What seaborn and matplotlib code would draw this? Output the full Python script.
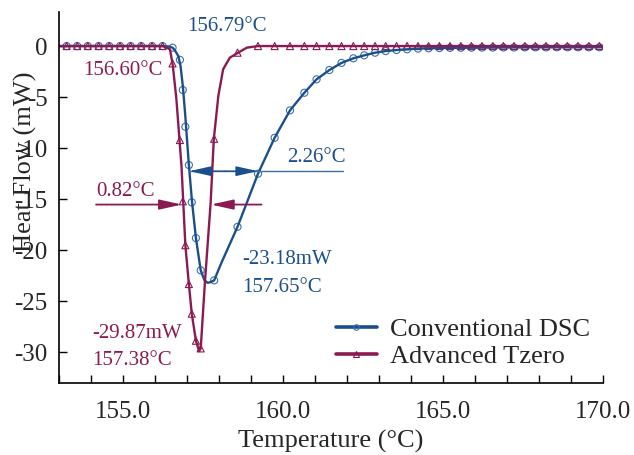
import numpy as np
import matplotlib
matplotlib.use("Agg")
import matplotlib.pyplot as plt
import seaborn as sns
from matplotlib.lines import Line2D
from matplotlib.ticker import MultipleLocator, FixedLocator

# ---- data ----
# line traces (temperature in degC, heat flow in mW)
t_conv = [153.0, 156.24, 156.45, 156.55, 156.62, 156.73, 156.80, 156.87, 156.94,
          157.06, 157.16, 157.28, 157.43, 157.55, 157.65, 157.75, 157.85, 158.08,
          158.58, 159.22, 159.74, 160.22, 160.67, 161.05, 161.45, 161.83, 162.20,
          162.54, 162.88, 163.21, 163.55, 163.88, 164.22, 164.55, 165.22, 166.50,
          168.00, 170.0]
hf_conv = [0.0, 0.0, -0.05, -0.16, -0.40, -0.98, -1.96, -3.9, -6.5,
           -11.65, -15.3, -18.8, -21.96, -22.95, -23.18, -23.1, -22.94, -21.2,
           -17.7, -12.5, -8.98, -6.3, -4.57, -3.26, -2.35, -1.65, -1.2,
           -0.91, -0.65, -0.49, -0.39, -0.32, -0.25, -0.22, -0.18, -0.15,
           -0.13, -0.12]

t_tz = [153.0, 156.24, 156.37, 156.47, 156.56, 156.67, 156.75, 156.83, 156.88,
        156.95, 157.06, 157.15, 157.28, 157.38, 157.43, 157.56, 157.74, 157.84,
        157.98, 158.13, 158.34, 158.60, 158.87, 159.22, 170.0]
hf_tz = [0.0, 0.0, -0.16, -0.32, -1.96, -5.2, -8.5, -11.8, -15.0,
         -19.5, -23.3, -26.2, -28.85, -29.87, -29.6, -23.2, -15.35, -9.08,
         -4.9, -2.28, -1.14, -0.65, -0.16, 0.0, 0.0]

# marker positions (shared temperature grid)
t_mark = [153.24, 153.57, 153.90, 154.24, 154.57, 154.91, 155.24, 155.57, 155.91,
          156.24, 156.55, 156.78, 156.87, 156.95, 157.06, 157.15, 157.28, 157.43,
          157.85, 158.58, 159.22, 159.74, 160.22, 160.67, 161.05, 161.45, 161.83,
          162.20, 162.54, 162.88, 163.21, 163.55, 163.88, 164.22, 164.55, 164.89,
          165.22, 165.56, 165.89, 166.22, 166.56, 166.89, 167.22, 167.56, 167.89,
          168.22, 168.56, 168.89, 169.22, 169.56, 169.89]
hf_mark_conv = [0, 0, 0, 0, 0, 0, 0, 0, 0,
                0, -0.16, -1.35, -4.3, -7.9, -11.65, -15.3, -18.8, -21.96,
                -22.94, -17.7, -12.5, -8.98, -6.3, -4.57, -3.26, -2.35, -1.65,
                -1.2, -0.91, -0.65, -0.49, -0.39, -0.32, -0.25, -0.22, -0.2,
                -0.18, -0.17, -0.16, -0.15, -0.15, -0.14, -0.14, -0.13, -0.13,
                -0.13, -0.12, -0.12, -0.12, -0.12, -0.12]
hf_mark_tz = [0, 0, 0, 0, 0, 0, 0, 0, 0,
              0, -1.7, -9.2, -15.2, -19.5, -23.3, -26.2, -28.85, -29.6,
              -9.08, -0.65, 0, 0, 0, 0, 0, 0, 0,
              0, 0, 0, 0, 0, 0, 0, 0, 0,
              0, 0, 0, 0, 0, 0, 0, 0, 0,
              0, 0, 0, 0, 0, 0]

BLUE = "#1b4f8c"
BLUE_M = "#3d70ab"
RED = "#8c1a52"

sns.set_style("ticks")
plt.rcParams["font.family"] = ["Liberation Serif", "DejaVu Serif"]
plt.rcParams["axes.unicode_minus"] = False

fig = plt.figure(figsize=(6.34, 4.55), dpi=100)
ax = fig.add_axes([0.093, 0.158, 0.858, 0.816])

sns.lineplot(x=t_conv, y=hf_conv, sort=False, color=BLUE, lw=1.7, ax=ax)
sns.lineplot(x=t_tz, y=hf_tz, sort=False, color=RED, lw=1.7, ax=ax)
sns.scatterplot(x=t_mark, y=hf_mark_conv, marker="o", s=26, color=BLUE_M, ax=ax)
ax.collections[-1].set_facecolor("none")
ax.collections[-1].set_edgecolor(BLUE_M)
ax.collections[-1].set_linewidth(0.8)
sns.scatterplot(x=t_mark, y=hf_mark_tz, marker="^", s=26, color=RED, ax=ax)
ax.collections[-1].set_facecolor("none")
ax.collections[-1].set_edgecolor(RED)
ax.collections[-1].set_linewidth(0.8)

ax.set_xlim(153, 170)
ax.set_ylim(-33, 3.35)
ax.xaxis.set_major_locator(FixedLocator([155, 160, 165, 170]))
ax.xaxis.set_minor_locator(MultipleLocator(1))
ax.set_xticklabels(["155.0", "160.0", "165.0", "170.0"])
ax.set_yticks([0, -5, -10, -15, -20, -25, -30])
ax.tick_params(axis="both", which="both", direction="in", length=6, width=1,
               labelsize=18, color="black")
ax.tick_params(axis="x", pad=13)
ax.tick_params(axis="y", pad=8)
sns.despine(ax=ax)
for s in ["left", "bottom"]:
    ax.spines[s].set_linewidth(1.2)
    ax.spines[s].set_color("black")

ax.set_xlabel("Temperature (°C)", fontsize=19, labelpad=5)
ax.set_ylabel("Heat Flow (mW)", fontsize=19)
ax.yaxis.set_label_coords(-0.040, 0.596)

# annotations
fs = 15
ax.text(157.0, 1.9, "156.79°C", color=BLUE, fontsize=fs, ha="left", va="center")
ax.text(153.75, -2.35, "156.60°C", color=RED, fontsize=fs, ha="left", va="center")
ax.text(160.13, -10.9, "2.26°C", color=BLUE, fontsize=fs, ha="left", va="center")
ax.text(154.16, -14.2, "0.82°C", color=RED, fontsize=fs, ha="left", va="center")
ax.text(158.72, -20.9, "-23.18mW", color=BLUE, fontsize=fs, ha="left", va="center")
ax.text(158.72, -23.6, "157.65°C", color=BLUE, fontsize=fs, ha="left", va="center")
ax.text(154.03, -28.1, "-29.87mW", color=RED, fontsize=fs, ha="left", va="center")
ax.text(154.03, -30.75, "157.38°C", color=RED, fontsize=fs, ha="left", va="center")

# width arrows
head = "-|>,head_length=1.35,head_width=0.3"
yb = -12.25
ax.plot([157.07, 161.87], [yb, yb], color=BLUE_M, lw=1.0)
ax.annotate("", xy=(157.07, yb), xytext=(158.2, yb),
            arrowprops=dict(arrowstyle=head, color=BLUE, lw=1.0,
                            shrinkA=0, shrinkB=0, mutation_scale=10))
ax.annotate("", xy=(159.22, yb), xytext=(158.2, yb),
            arrowprops=dict(arrowstyle=head, color=BLUE, lw=1.0,
                            shrinkA=0, shrinkB=0, mutation_scale=10))
yr = -15.52
ax.annotate("", xy=(156.84, yr), xytext=(154.16, yr),
            arrowprops=dict(arrowstyle=head, color=RED, lw=1.3,
                            shrinkA=0, shrinkB=0, mutation_scale=10))
ax.annotate("", xy=(157.75, yr), xytext=(159.33, yr),
            arrowprops=dict(arrowstyle=head, color=RED, lw=1.3,
                            shrinkA=0, shrinkB=0, mutation_scale=10))

handles = [
    Line2D([], [], color=BLUE, lw=2.6, marker="o", ms=4, mfc="none", mec=BLUE_M, mew=0.8),
    Line2D([], [], color=RED, lw=2.6, marker="^", ms=4, mfc="none", mec=RED, mew=0.8),
]
ax.legend(handles, ["Conventional DSC", "Advanced Tzero"], loc="lower left",
          bbox_to_anchor=(0.509, 0.04), frameon=False, fontsize=19,
          handlelength=1.55, handletextpad=0.5, labelspacing=0.15,
          borderpad=0, borderaxespad=0)

fig.savefig("out.png", dpi=100)
